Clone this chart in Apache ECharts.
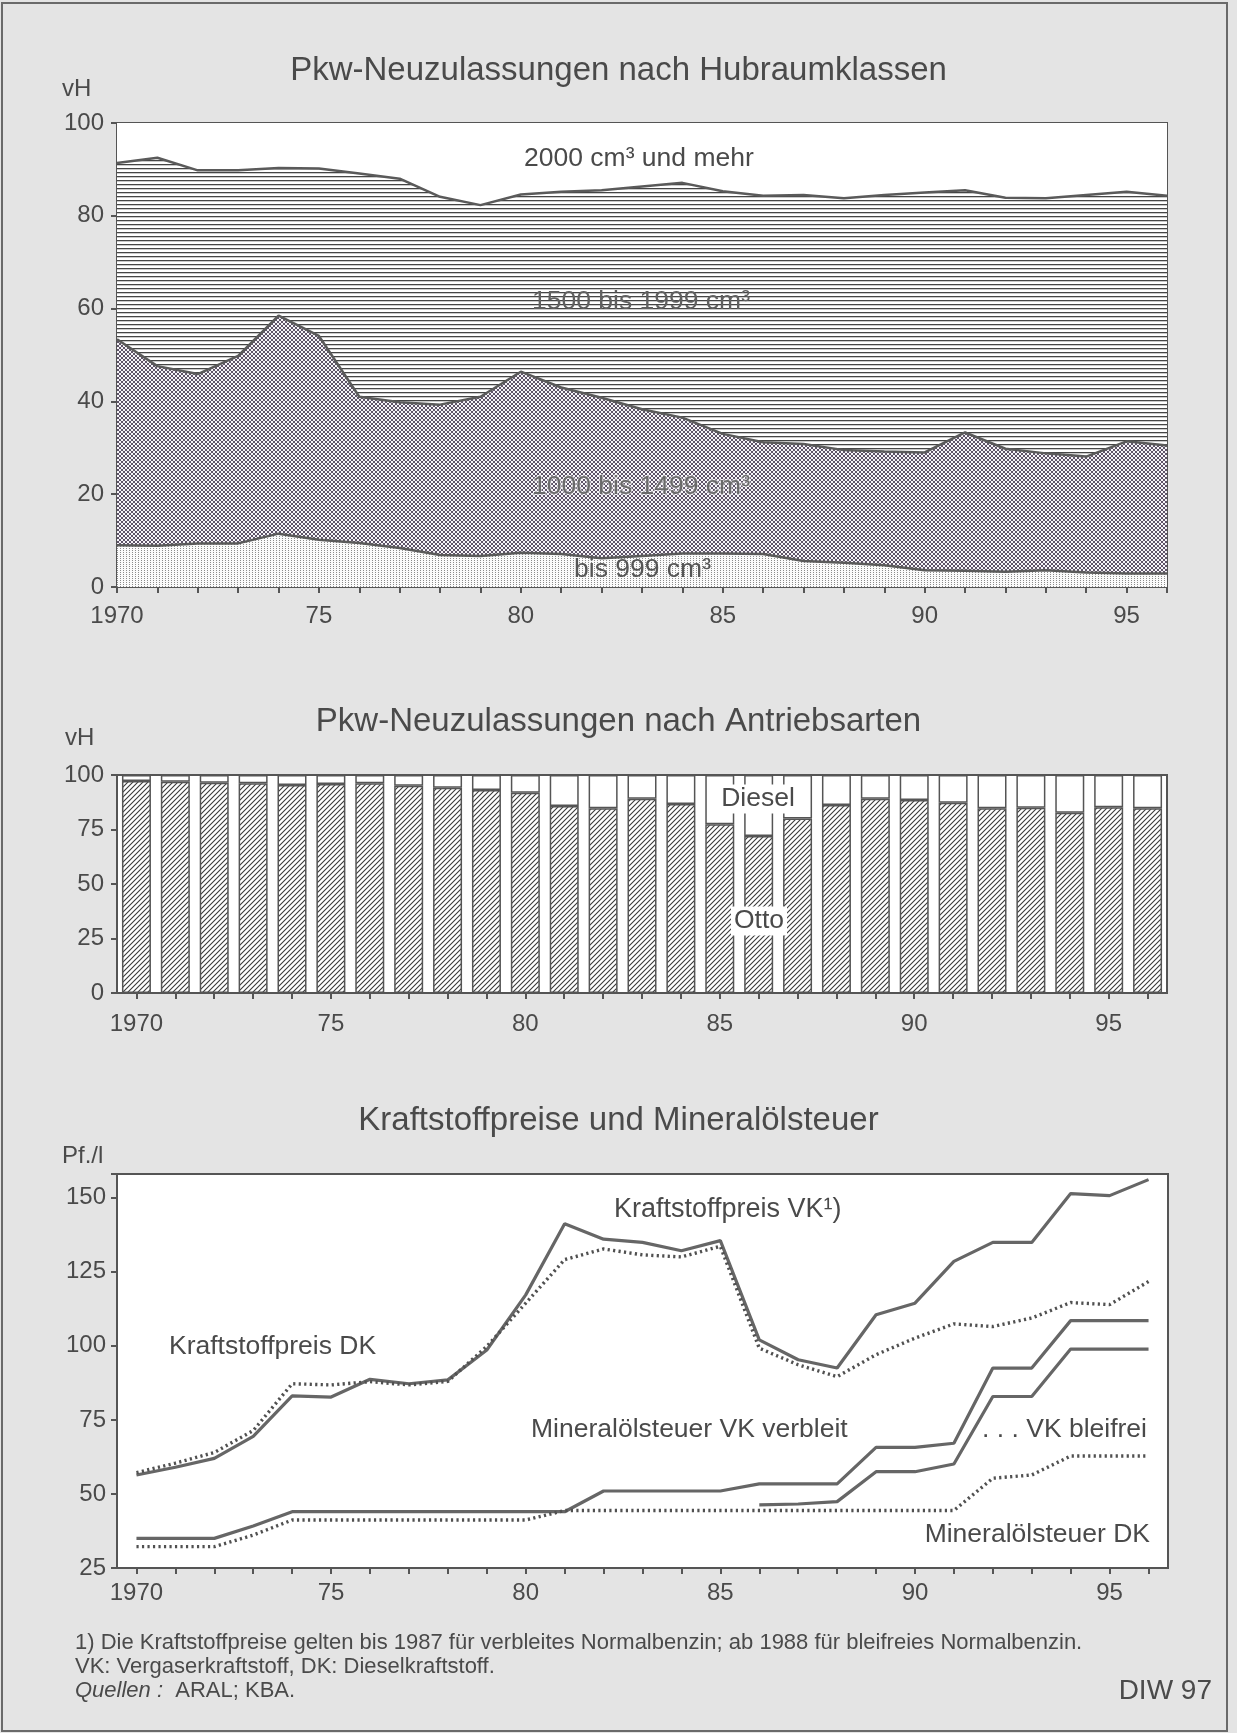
<!DOCTYPE html>
<html><head><meta charset="utf-8">
<script src="https://cdn.jsdelivr.net/npm/echarts@6/dist/echarts.min.js"></script>
<style>html,body{margin:0;padding:0;background:#e4e4e4;} #c{width:1237px;height:1733px;}</style>
</head><body><div id="c"></div>
<script>
// ---------- DATA ----------
const years = ['1970','1971','1972','1973','1974','1975','1976','1977','1978','1979','1980','1981','1982','1983','1984','1985','1986','1987','1988','1989','1990','1991','1992','1993','1994','1995','1996'];
const yearTickLabels = ['1970','','','','','75','','','','','80','','','','','85','','','','','90','','','','','95',''];

// Pkw-Neuzulassungen nach Hubraumklassen (vH)
const hubraumBis999   = [9.0, 8.9, 9.4, 9.4, 11.5, 10.2, 9.5, 8.4, 6.9, 6.7, 7.4, 7.1, 6.2, 6.7, 7.2, 7.2, 7.1, 5.6, 5.2, 4.7, 3.6, 3.5, 3.3, 3.6, 3.1, 2.9, 2.9];
const hubraum1000     = [44.4, 38.7, 36.5, 40.4, 47.0, 43.9, 31.5, 31.4, 32.4, 34.3, 39.0, 35.9, 34.6, 31.6, 29.3, 25.8, 24.1, 25.2, 24.3, 24.5, 25.4, 29.8, 26.5, 25.2, 25.0, 28.5, 27.6];
const hubraum1500     = [38.0, 44.9, 43.9, 40.0, 31.8, 36.1, 48.1, 48.2, 44.8, 41.3, 38.2, 42.2, 44.7, 48.0, 50.6, 52.3, 53.1, 53.7, 54.3, 55.3, 56.0, 52.2, 54.1, 55.0, 56.4, 53.8, 53.8];
const hubraum2000     = [8.6, 7.5, 10.2, 10.2, 9.7, 9.8, 10.9, 12.0, 15.9, 17.7, 15.4, 14.8, 14.5, 13.7, 12.9, 14.7, 15.7, 15.5, 16.2, 15.5, 15.0, 14.5, 16.1, 16.2, 15.5, 14.8, 15.7];

// Pkw-Neuzulassungen nach Antriebsarten (vH)
const antriebOtto   = [97.2, 96.9, 96.5, 96.2, 95.4, 95.9, 96.2, 95.1, 94.2, 93.1, 91.9, 85.8, 84.7, 89.1, 86.7, 77.4, 72.0, 80.1, 86.2, 89.1, 88.5, 87.3, 84.7, 85.0, 82.7, 85.2, 84.7];
const antriebDiesel = [2.8, 3.1, 3.5, 3.8, 4.6, 4.1, 3.8, 4.9, 5.8, 6.9, 8.1, 14.2, 15.3, 10.9, 13.3, 22.6, 28.0, 19.9, 13.8, 10.9, 11.5, 12.7, 15.3, 15.0, 17.3, 14.8, 15.3];

// Kraftstoffpreise und Mineralölsteuer (Pf./l)
const preisVK          = [56.4, 59.0, 62.0, 69.4, 83.1, 82.7, 88.7, 87.2, 88.5, 98.6, 117.2, 141.2, 136.0, 134.9, 132.1, 135.5, 102.0, 95.3, 92.5, 110.5, 114.4, 128.5, 134.9, 134.9, 151.4, 150.7, 156.1];
const preisDK          = [57.2, 60.4, 64.0, 71.4, 87.2, 86.8, 87.9, 86.8, 88.0, 99.8, 114.4, 129.1, 132.7, 130.7, 130.0, 133.6, 99.2, 93.6, 89.6, 97.0, 102.6, 107.4, 106.5, 109.4, 114.6, 113.9, 121.7];
const steuerVKverbleit = [35.0, 35.0, 35.0, 39.2, 44.0, 44.0, 44.0, 44.0, 44.0, 44.0, 44.0, 44.0, 51.0, 51.0, 51.0, 51.0, 53.4, 53.4, 53.4, 65.7, 65.7, 67.1, 92.5, 92.5, 108.5, 108.5, 108.5];
const steuerVKbleifrei = [null, null, null, null, null, null, null, null, null, null, null, null, null, null, null, null, 46.3, 46.6, 47.4, 57.5, 57.5, 60.1, 82.9, 82.9, 98.9, 98.9, 98.9];
const steuerDK         = [32.2, 32.2, 32.2, 36.1, 41.2, 41.2, 41.2, 41.2, 41.2, 41.2, 41.2, 44.4, 44.4, 44.4, 44.4, 44.4, 44.4, 44.4, 44.4, 44.4, 44.4, 44.4, 55.3, 56.4, 62.8, 62.8, 62.8];

// ---------- PATTERNS ----------
function pattern(w, h, draw) {
  const c = document.createElement('canvas'); c.width = w; c.height = h;
  const ctx = c.getContext('2d'); draw(ctx); return { image: c, repeat: 'repeat' };
}
const patHLines = pattern(8, 4, ctx => { ctx.fillStyle = '#ffffff'; ctx.fillRect(0,0,8,4); ctx.fillStyle = '#454545'; ctx.fillRect(0, 0, 8, 1); ctx.fillStyle='rgba(80,80,80,0.3)'; ctx.fillRect(0,1,8,1); });
const patCross = pattern(4, 4, ctx => {
  ctx.fillStyle = '#f6f4f8'; ctx.fillRect(0,0,4,4);
  ctx.fillStyle = '#5e5468';
  [[0,0],[1,1],[2,2],[3,3],[3,0],[2,1],[1,2],[0,3]].forEach(p => ctx.fillRect(p[0], p[1], 1, 1));
});
const patDots = pattern(3, 2, ctx => { ctx.fillStyle = '#fbfbfb'; ctx.fillRect(0,0,3,2); ctx.fillStyle = '#8c8c8c'; ctx.fillRect(0, 0, 1, 1); });
const patDiag = pattern(5, 5, ctx => {
  ctx.fillStyle = '#ffffff'; ctx.fillRect(0,0,5,5);
  ctx.strokeStyle = '#3a3a3a'; ctx.lineWidth = 1.1;
  ctx.beginPath(); ctx.moveTo(-1, 6); ctx.lineTo(6, -1);
  ctx.moveTo(-1, 1); ctx.lineTo(1, -1); ctx.moveTo(4, 6); ctx.lineTo(6, 4); ctx.stroke();
});

// ---------- CHART ----------
const FONT = "'Liberation Sans', Arial, Helvetica, sans-serif";
const TXT = '#4a4a4a';
const AX = '#555555';
const chart = echarts.init(document.getElementById('c'), null, { renderer: 'canvas' });

const axisCommon = {
  axisLine: { show: true, lineStyle: { color: AX, width: 2 } },
  axisTick: { show: true, length: 6, lineStyle: { color: AX, width: 2 } },
  splitLine: { show: false },
};
const grids = [
  { left: 117, right: 70, top: 123, height: 464 },
  { left: 117, right: 70, top: 775, height: 218 },
  { left: 117, right: 69, top: 1174, height: 394 }
].map(g => Object.assign(g, { show: true, borderColor: AX, borderWidth: 2, backgroundColor: '#ffffff' }));

const xLabel = (margin) => ({ interval: 0, margin: margin, fontSize: 24, color: TXT, fontFamily: FONT,
  formatter: (v, i) => yearTickLabels[i] });
const yLabel = (margin, step) => ({ margin: margin, fontSize: 24, color: TXT, fontFamily: FONT,
  formatter: v => (v % step === 0 ? String(v) : '') });
const tt = { fontSize: 33, fontWeight: 'normal', color: TXT, fontFamily: FONT };

const option = {
  backgroundColor: '#e4e4e4',
  animation: false,
  textStyle: { fontFamily: FONT },
  grid: grids,
  title: [
    { text: 'Pkw-Neuzulassungen nach Hubraumklassen', left: 'center', top: 49, textStyle: tt },
    { text: 'Pkw-Neuzulassungen nach Antriebsarten', left: 'center', top: 700, textStyle: tt },
    { text: 'Kraftstoffpreise und Mineralölsteuer', left: 'center', top: 1099, textStyle: tt },
  ],
  xAxis: [
    Object.assign({ type: 'category', gridIndex: 0, data: years, boundaryGap: false, axisLabel: xLabel(17) }, axisCommon,
      { axisTick: { show: true, interval: 0, length: 6, lineStyle: { color: AX, width: 2 } } }),
    Object.assign({ type: 'category', gridIndex: 1, data: years, boundaryGap: true, axisLabel: xLabel(19) }, axisCommon,
      { axisTick: { show: true, interval: 0, alignWithLabel: true, length: 6, lineStyle: { color: AX, width: 2 } } }),
    Object.assign({ type: 'category', gridIndex: 2, data: years, boundaryGap: true, axisLabel: xLabel(13) }, axisCommon,
      { axisTick: { show: true, interval: 0, alignWithLabel: true, length: 6, lineStyle: { color: AX, width: 2 } } }),
  ],
  yAxis: [
    Object.assign({ type: 'value', gridIndex: 0, min: 0, max: 100, interval: 20, axisLabel: yLabel(13, 20) }, axisCommon),
    Object.assign({ type: 'value', gridIndex: 1, min: 0, max: 100, interval: 25, axisLabel: yLabel(13, 25) }, axisCommon),
    Object.assign({ type: 'value', gridIndex: 2, min: 25, max: 158, interval: 25, axisLabel: yLabel(11, 25) }, axisCommon),
  ],
  series: [
    // chart 1 stacked areas
    { name: 'bis 999 cm³', type: 'line', xAxisIndex: 0, yAxisIndex: 0, stack: 'hub', data: hubraumBis999, symbol: 'none',
      lineStyle: { color: '#5a5a5a', width: 2.5 }, areaStyle: { color: patDots, opacity: 1 } },
    { name: '1000 bis 1499 cm³', type: 'line', xAxisIndex: 0, yAxisIndex: 0, stack: 'hub', data: hubraum1000, symbol: 'none',
      lineStyle: { color: '#5a5a5a', width: 2.5 }, areaStyle: { color: patCross, opacity: 1 } },
    { name: '1500 bis 1999 cm³', type: 'line', xAxisIndex: 0, yAxisIndex: 0, stack: 'hub', data: hubraum1500, symbol: 'none',
      lineStyle: { color: '#5a5a5a', width: 2.5 }, areaStyle: { color: patHLines, opacity: 1 } },
    { name: '2000 cm³ und mehr', type: 'line', xAxisIndex: 0, yAxisIndex: 0, stack: 'hub', data: hubraum2000, symbol: 'none',
      lineStyle: { width: 0, opacity: 0 }, areaStyle: { color: '#ffffff', opacity: 1 } },
    // chart 2 bars
    { name: 'Otto', type: 'bar', xAxisIndex: 1, yAxisIndex: 1, stack: 'antrieb', data: antriebOtto, barWidth: 29,
      itemStyle: { color: patDiag, borderColor: '#555', borderWidth: 1.5 } },
    { name: 'Diesel', type: 'bar', xAxisIndex: 1, yAxisIndex: 1, stack: 'antrieb', data: antriebDiesel, barWidth: 29,
      itemStyle: { color: '#ffffff', borderColor: '#555', borderWidth: 1.5 } },
    // chart 3 lines
    { name: 'Kraftstoffpreis VK', type: 'line', xAxisIndex: 2, yAxisIndex: 2, data: preisVK, symbol: 'none',
      lineStyle: { color: '#666', width: 3.2 } },
    { name: 'Kraftstoffpreis DK', type: 'line', xAxisIndex: 2, yAxisIndex: 2, data: preisDK, symbol: 'none',
      lineStyle: { color: '#505050', width: 3.4, type: [2.2, 3.3] } },
    { name: 'Mineralölsteuer VK verbleit', type: 'line', xAxisIndex: 2, yAxisIndex: 2, data: steuerVKverbleit, symbol: 'none',
      lineStyle: { color: '#666', width: 3.2 } },
    { name: 'Mineralölsteuer VK bleifrei', type: 'line', xAxisIndex: 2, yAxisIndex: 2, data: steuerVKbleifrei, symbol: 'none',
      lineStyle: { color: '#666', width: 3.2 } },
    { name: 'Mineralölsteuer DK', type: 'line', xAxisIndex: 2, yAxisIndex: 2, data: steuerDK, symbol: 'none',
      lineStyle: { color: '#505050', width: 3.4, type: [2.2, 3.3] } },
  ],
  graphic: []
};

function txt(x, y, text, size, opts) {
  return Object.assign({ type: 'text', x: x, y: y, z: 100,
    style: Object.assign({ text: text, fontSize: size, fontFamily: FONT, fill: TXT, align: 'left', verticalAlign: 'middle' }, opts || {}) });
}
option.graphic = [
  { type: 'rect', shape: { x: 2, y: 3, width: 1225, height: 1728 }, style: { fill: 'none', stroke: '#6a6a6a', lineWidth: 2 }, z: 100 },
  txt(62, 89, 'vH', 24),
  txt(65, 738, 'vH', 24),
  txt(62, 1156, 'Pf./l', 24),
  // chart 1 annotations
  txt(524, 159, '2000 cm³ und mehr', 26.5),
  txt(532, 302, '1500 bis 1999 cm³', 26.5, { fill: '#606060' }),
  txt(532, 487, '1000 bis 1499 cm³', 26.5, { fill: '#6a6a6a', stroke: 'rgba(255,255,255,0.55)', lineWidth: 2 }),
  txt(574, 570, 'bis 999 cm³', 26.5, { fill: '#555' }),
  // chart 2 annotations
  txt(758, 799, 'Diesel', 26.5, { align: 'center', backgroundColor: '#ffffff', padding: [1, 14, 1, 14] }),
  txt(759, 921, 'Otto', 26.5, { align: 'center', backgroundColor: '#ffffff', padding: [1, 3, 1, 3] }),
  // chart 3 annotations
  txt(614, 1210, 'Kraftstoffpreis VK¹)', 27),
  txt(169, 1347, 'Kraftstoffpreis DK', 26.5),
  txt(531, 1430, 'Mineralölsteuer VK verbleit', 26.5),
  txt(1147, 1430, '. . . VK bleifrei', 26.5, { align: 'right' }),
  txt(1150, 1535, 'Mineralölsteuer DK', 26.5, { align: 'right' }),
  // footnotes
  txt(75, 1643, '1) Die Kraftstoffpreise gelten bis 1987 für verbleites Normalbenzin; ab 1988 für bleifreies Normalbenzin.', 22),
  txt(75, 1667, 'VK: Vergaserkraftstoff, DK: Dieselkraftstoff.', 22),
  { type: 'text', x: 75, y: 1691, z: 100, style: { text: '{i|Quellen :}  ARAL; KBA.', fontSize: 22, fontFamily: FONT, fill: TXT, verticalAlign: 'middle',
      rich: { i: { fontStyle: 'italic', fontSize: 22, fontFamily: FONT, fill: TXT } } } },
  txt(1212, 1691, 'DIW 97', 28, { align: 'right' }),
];

chart.setOption(option);
</script>
</body></html>
